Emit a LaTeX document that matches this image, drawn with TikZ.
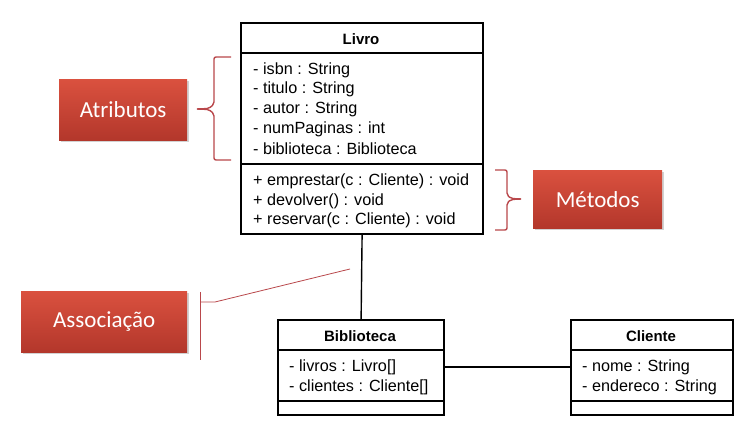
\documentclass[tikz,border=0pt]{standalone}
\usepackage{fontspec}
\setmainfont{Liberation Sans}
\newfontfamily\calib{Carlito}
\usetikzlibrary{shadows}
\definecolor{boxtop}{HTML}{DA513F}
\definecolor{boxbot}{HTML}{B3372B}
\definecolor{bracered}{HTML}{B9474B}
\tikzset{
  redbox/.style={anchor=north west, inner sep=0pt, top color=boxtop, bottom color=boxbot,
    text=white, font=\calib\fontsize{23}{25}\selectfont,
    drop shadow={opacity=0.35, shadow xshift=1.5pt, shadow yshift=-2pt}},
  umlbox/.style={draw=black, line width=2.2pt, anchor=north west, inner sep=0pt},
  sepline/.style={draw=black, line width=1.3pt},
  umltxt/.style={anchor=west, inner sep=0pt, font=\fontsize{16.2}{18}\selectfont},
  umltitle/.style={inner sep=0pt, font=\bfseries\fontsize{15}{17}\selectfont},
  assoc/.style={draw=black, line width=1.4pt},
  bracel/.style={draw=bracered, line width=1.4pt, rounded corners=2pt},
  notel/.style={draw=bracered, line width=0.8pt}
}
\begin{document}
\begin{tikzpicture}[x=1pt,y=-1pt]
\useasboundingbox (0,0) rectangle (753,438);
\fill[white] (0,0) rectangle (753,438);

% red label boxes
\node[redbox, minimum width=128pt, minimum height=61pt] (atr) at (59,79) {Atributos};
\node[redbox, minimum width=129pt, minimum height=58pt] (met) at (533,170) {Métodos};
\node[redbox, minimum width=166pt, minimum height=61pt] (ass) at (21,291) {Associação};

% Livro
\node[umlbox, minimum width=242pt, minimum height=211pt] (livro) at (240,22) {};
\draw[sepline] (240,53) -- (482,53);
\draw[sepline] (240,164) -- (482,164);
\node[umltitle] (livrot) at (361,39) {Livro};
\node[umltxt] (l1) at (253,70) {- isbn : String};
\node[umltxt] (l2) at (253,89.5) {- titulo : String};
\node[umltxt] (l3) at (253,109) {- autor : String};
\node[umltxt] (l4) at (253,129) {- numPaginas : int};
\node[umltxt] (l5) at (253,149) {- biblioteca : Biblioteca};
\node[umltxt] (m1) at (253,181.5) {+ emprestar(c : Cliente) : void};
\node[umltxt] (m2) at (253,201) {+ devolver() : void};
\node[umltxt] (m3) at (253,220.5) {+ reservar(c : Cliente) : void};

% Biblioteca
\node[umlbox, minimum width=166pt, minimum height=95pt] (bib) at (277,319) {};
\draw[sepline] (277,350) -- (443,350);
\draw[sepline] (277,401) -- (443,401);
\node[umltitle] (bibt) at (360,336) {Biblioteca};
\node[umltxt] (b1) at (289,367) {- livros : Livro[]};
\node[umltxt] (b2) at (289,387) {- clientes : Cliente[]};

% Cliente
\node[umlbox, minimum width=162pt, minimum height=95pt] (cli) at (570,319) {};
\draw[sepline] (570,350) -- (732,350);
\draw[sepline] (570,401) -- (732,401);
\node[umltitle] (clit) at (651,336) {Cliente};
\node[umltxt] (c1) at (582,367) {- nome : String};
\node[umltxt] (c2) at (582,387) {- endereco : String};

% associations
\draw[assoc] (livro.south) -- (bib.north);
\draw[assoc] (bib.east |- b1) -- (cli.west |- b1);

% braces
\coordinate (atop) at (231,57);
\coordinate (abot) at (231,160);
\coordinate (amid) at (197,109);
\draw[bracel] (atop) -- (214,57) -- (214,104) -- (209,108.5) -- (amid);
\draw[bracel] (abot) -- (214,160) -- (214,114) -- (209,109.5) -- (amid);

\coordinate (mtop) at (495,170);
\coordinate (mbot) at (495,230);
\coordinate (mmid) at (521,199);
\draw[bracel] (mtop) -- (507,170) -- (507,195) -- (511,198.5) -- (mmid);
\draw[bracel] (mbot) -- (507,230) -- (507,203) -- (511,199.5) -- (mmid);

% association note line
\coordinate (nt) at (200,292);
\coordinate (nb) at (200,360);
\coordinate (nk) at (215,302);
\coordinate (nend) at (350,269);
\draw[notel] (nt) -- (nb);
\draw[notel] (200,302) -- (nk) -- (nend);
\end{tikzpicture}
\end{document}
